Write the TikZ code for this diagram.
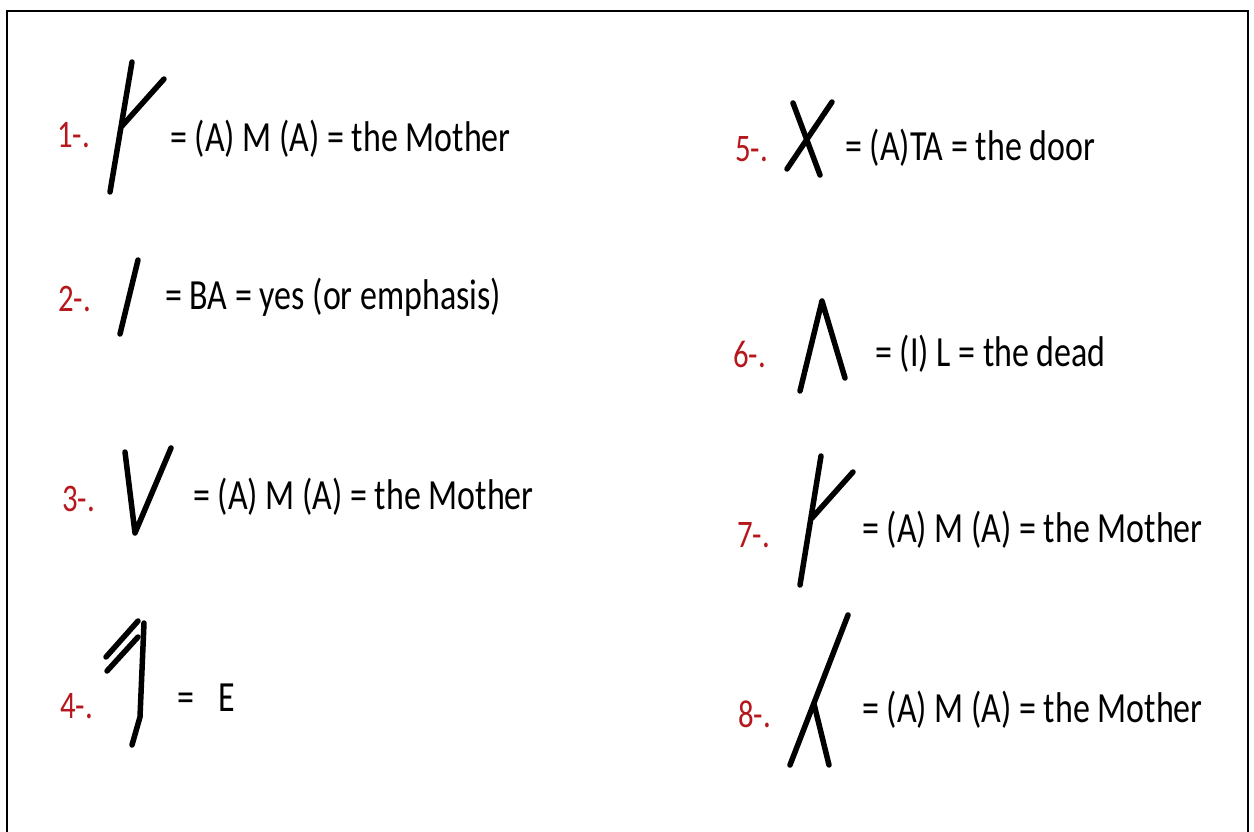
\documentclass[tikz,border=0pt]{standalone}
\usepackage{fontspec}
\setmainfont{Carlito}[FakeStretch=0.79]
\usepackage{xcolor}
\definecolor{numred}{HTML}{B5171C}
\tikzset{
  rune/.style={line width=5.5pt,line cap=round,line join=round},
  num/.style={anchor=base west,inner sep=0pt,text=numred,font=\fontsize{39}{46}\selectfont},
  gloss/.style={anchor=base west,inner sep=0pt}
}
\begin{document}
\begin{tikzpicture}[x=1pt,y=-1pt,font=\fontsize{43}{50}\selectfont]
\useasboundingbox (0,0) rectangle (1254,832);
\draw[line width=2.5pt] (7,832) -- (7,11) -- (1248,11) -- (1248,832);
% left column
\node[num] (n1) at (57,148) {1-.};
\draw[rune] (132,62) -- (110,192);
\draw[rune] (122,126) -- (164,79);
\node[gloss] (g1) at (170,152) {= (A) M (A) = the Mother};
\node[num] (n2) at (58,311) {2-.};
\draw[rune] (138,260) -- (120,334);
\node[gloss] (g2) at (165,309) {= BA = yes (or emphasis)};
\node[num] (n3) at (62,511) {3-.};
\draw[rune] (125,452) -- (135,533) -- (171,448);
\node[gloss] (g3) at (193,509) {= (A) M (A) = the Mother};
\node[num] (n4) at (60,718) {4-.};
\draw[rune] (144,623) -- (140,717) -- (132,745);
\draw[rune] (106,657) -- (138,621);
\draw[rune] (107,671) -- (138,637);
\node[gloss] (g4) at (177,711) {=\hspace{24pt}E};
% right column
\node[num] (n5) at (735,162) {5-.};
\draw[rune] (793,103) -- (820,175);
\draw[rune] (832,102) -- (787,169);
\node[gloss] (g5) at (845,161) {= (A)TA = the door};
\node[num] (n6) at (733,367) {6-.};
\draw[rune] (800,391) -- (822,301) -- (845,378);
\node[gloss] (g6) at (875,366) {= (I) L = the dead};
\node[num] (n7) at (737,547) {7-.};
\draw[rune] (821,456) -- (800,585);
\draw[rune] (812,518) -- (853,472);
\node[gloss] (g7) at (862,542) {= (A) M (A) = the Mother};
\node[num] (n8) at (738,727) {8-.};
\draw[rune] (848,615) -- (790,765);
\draw[rune] (814,704) -- (829,765);
\node[gloss] (g8) at (862,722) {= (A) M (A) = the Mother};
\end{tikzpicture}
\end{document}
